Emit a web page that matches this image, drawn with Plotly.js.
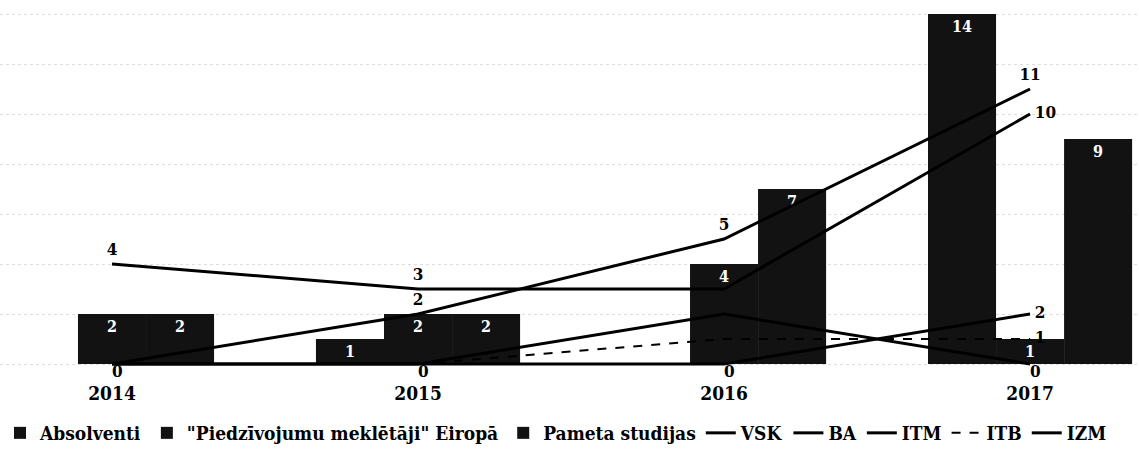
<!DOCTYPE html>
<html>
<head>
<meta charset="utf-8">
<script src="https://cdn.plot.ly/plotly-3.0.1.min.js"></script>
<style>html,body{margin:0;padding:0;background:#fff;}#chart{width:1139px;height:452px;}</style>
</head>
<body>
<div id="chart"></div>
<script>
// ---- data ----
const years = ['2014', '2015', '2016', '2017'];
const absolventi = [0, 1, 0, 14];
const piedzivojumu = [2, 2, 4, 1];
const pameta = [2, 2, 7, 9];
const VSK = [4, 3, 3, 10];
const BA = [0, 2, 5, 11];
const ITM = [0, 0, 2, 0];
const ITB = [0, 0, 1, 1];
const IZM = [0, 0, 0, 2];

const FONT = 'DejaVu Serif Condensed, DejaVu Serif, Liberation Serif, serif';
const barText = v => v.map(x => x ? String(x) : '');

function bar(name, vals) {
  return {
    type: 'bar', name: name, x: years, y: vals,
    marker: {color: '#121212', line: {width: 0}},
    text: barText(vals), textposition: 'inside', insidetextanchor: 'end',
    textangle: 0,
    insidetextfont: {family: FONT, size: 16, color: '#ffffff', weight: 'bold'},
    hoverinfo: 'skip'
  };
}
// hide: indices whose label is covered (hidden behind a bar or stacked under an identical label)
function line(name, vals, pos, hide, dash, width) {
  return {
    type: 'scatter', mode: 'lines+markers+text', name: name, x: years, y: vals,
    line: {color: '#000000', width: width || 3, dash: dash || 'solid'},
    marker: {size: pos.map(p => p.startsWith('bottom') ? 0 : 6), color: 'rgba(0,0,0,0)', line: {width: 0}},
    text: vals.map((v, i) => hide && hide.includes(i) ? '' : String(v)),
    textposition: pos,
    textfont: {family: FONT, size: 17, color: '#000000', weight: 'bold'},
    cliponaxis: false, hoverinfo: 'skip'
  };
}

const data = [
  bar('Absolventi', absolventi),
  bar('"Piedzīvojumu meklētāji" Eiropā', piedzivojumu),
  bar('Pameta studijas', pameta),
  line('VSK', VSK, ['top center', 'top center', 'top center', 'middle right'], [2]),
  line('BA', BA, ['bottom right', 'top center', 'top center', 'top center']),
  line('ITM', ITM, ['bottom right', 'bottom right', 'top center', 'bottom right'], [0, 2]),
  line('ITB', ITB, ['bottom right', 'bottom right', 'top center', 'middle right'], [0, 1, 2], 'dash', 2),
  line('IZM', IZM, ['bottom right', 'bottom right', 'bottom right', 'middle right'], [0, 1])
];

const layout = {
  width: 1139, height: 452,
  margin: {l: 0, r: 0, t: 0, b: 83},
  paper_bgcolor: '#ffffff', plot_bgcolor: '#ffffff',
  barmode: 'group', bargap: 0.333, bargroupgap: 0,
  showlegend: true,
  legend: {
    orientation: 'h', x: -0.008, xanchor: 'left', xref: 'container',
    y: -0.004, yanchor: 'bottom', yref: 'container',
    font: {family: FONT, size: 19, color: '#000000', weight: 'bold'},
    traceorder: 'normal', itemwidth: 30, tracegroupgap: 0
  },
  xaxis: {
    type: 'category', range: [-0.366, 3.356], showgrid: false, zeroline: false,
    showline: false, ticks: '', ticklabelstandoff: 11,
    tickfont: {family: FONT, size: 19, color: '#000000', weight: 'bold'}
  },
  yaxis: {
    range: [-0.2, 14.56], dtick: 2, showgrid: true, gridcolor: '#dedede',
    griddash: 'dot', gridwidth: 1, zeroline: false, showticklabels: false,
    showline: false, ticks: ''
  }
};

Plotly.newPlot('chart', data, layout, {staticPlot: true, displayModeBar: false});
</script>
</body>
</html>
